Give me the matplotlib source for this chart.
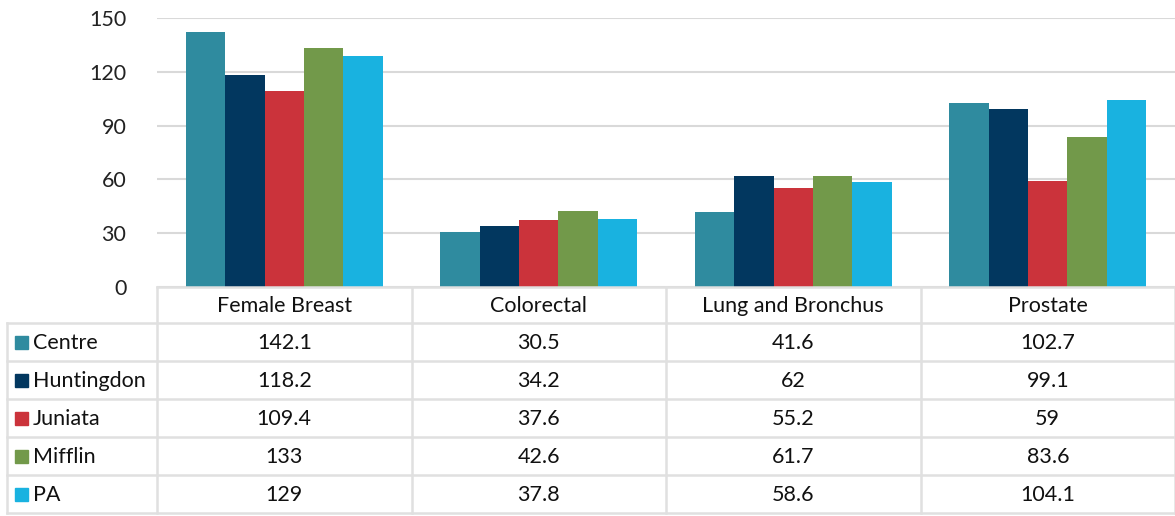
import matplotlib
matplotlib.use("Agg")
import matplotlib.pyplot as plt
import numpy as np

categories = ["Female Breast", "Colorectal", "Lung and Bronchus", "Prostate"]
series = ["Centre", "Huntingdon", "Juniata", "Mifflin", "PA"]
centre = [142.1, 30.5, 41.6, 102.7]
huntingdon = [118.2, 34.2, 62, 99.1]
juniata = [109.4, 37.6, 55.2, 59]
mifflin = [133, 42.6, 61.7, 83.6]
pa = [129, 37.8, 58.6, 104.1]
values = [centre, huntingdon, juniata, mifflin, pa]
labels_text = [["142.1", "30.5", "41.6", "102.7"],
               ["118.2", "34.2", "62", "99.1"],
               ["109.4", "37.6", "55.2", "59"],
               ["133", "42.6", "61.7", "83.6"],
               ["129", "37.8", "58.6", "104.1"]]
colors = ["#2F8B9F", "#02375F", "#CB333B", "#72994A", "#19B2E0"]
yticks = [0, 30, 60, 90, 120, 150]

plt.rcParams['font.family'] = ['Lato', 'DejaVu Sans']
FS = 15.5

W, H = 1175, 516
fig = plt.figure(figsize=(W / 100, H / 100), dpi=100)

x0, x1 = 157, 1175
y0, y150 = 287, 18
ax = fig.add_axes([x0 / W, 1 - y0 / H, (x1 - x0) / W, (y0 - y150) / H])
n = len(series)
bw = 0.155
x = np.arange(len(categories))
for i, (s, v, c) in enumerate(zip(series, values, colors)):
    ax.bar(x + (i - (n - 1) / 2) * bw, v, width=bw, color=c, zorder=3)
ax.set_xlim(-0.5, len(categories) - 0.5)
ax.set_ylim(0, 150)
ax.set_yticks(yticks)
ax.set_yticklabels([str(t) for t in yticks], fontsize=FS, color="#222222")
ax.tick_params(axis='y', length=0, pad=22)
ax.set_xticks([])
ax.grid(axis='y', color="#d9d9d9", linewidth=1.5, zorder=0)
for sp in ax.spines.values():
    sp.set_visible(False)

# table
tax = fig.add_axes([0, 0, 1, 1])
tax.set_xlim(0, W)
tax.set_ylim(H, 0)
tax.axis('off')
lc = "#e0e0e0"
lw = 1.8
tleft = 7
row_h = 38
hdr_top = 287
hdr_bot = 323
bottom = hdr_bot + row_h * n
col_w = (x1 - x0) / len(categories)
tax.plot([x0, x1], [hdr_top, hdr_top], color=lc, lw=lw)
for r in range(n + 1):
    y = hdr_bot + r * row_h
    tax.plot([tleft, x1], [y, y], color=lc, lw=lw)
tax.plot([tleft, tleft], [hdr_bot, bottom], color=lc, lw=lw)
for j in range(len(categories) + 1):
    xx = x0 + j * col_w
    tax.plot([xx, xx], [hdr_top, bottom], color=lc, lw=lw)
for j, cat in enumerate(categories):
    tax.text(x0 + (j + 0.5) * col_w, (hdr_top + hdr_bot) / 2 + 1, cat,
             ha='center', va='center', fontsize=FS, color="#111111")
for i, s in enumerate(series):
    yc = hdr_bot + (i + 0.5) * row_h
    tax.add_patch(plt.Rectangle((15, yc - 6.5), 13, 13, color=colors[i]))
    tax.text(33, yc + 1, s, ha='left', va='center', fontsize=FS, color="#111111")
    for j in range(len(categories)):
        tax.text(x0 + (j + 0.5) * col_w, yc + 1, labels_text[i][j],
                 ha='center', va='center', fontsize=FS, color="#111111")

fig.savefig("out.png", dpi=100)
